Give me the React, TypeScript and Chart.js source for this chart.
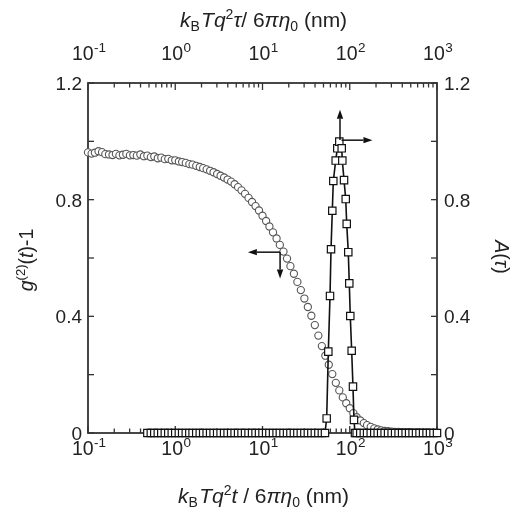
import React, { useEffect, useRef } from "react";
import { Chart, registerables } from "chart.js";

Chart.register(...registerables);

// ---- data ----
const tau = [
  0.1, 0.11, 0.12, 0.132, 0.145, 0.158, 0.174, 0.191, 0.209, 0.229,
  0.251, 0.275, 0.302, 0.331, 0.363, 0.398, 0.437, 0.479, 0.525, 0.575,
  0.631, 0.692, 0.759, 0.832, 0.912,
  1.0, 1.1, 1.2, 1.32, 1.45, 1.58, 1.74, 1.91, 2.09, 2.29,
  2.51, 2.75, 3.02, 3.31, 3.63, 3.98, 4.37, 4.79, 5.25, 5.75,
  6.31, 6.92, 7.59, 8.32, 9.12,
  10, 11, 12, 13.2, 14.5, 15.8, 17.4, 19.1, 20.9, 22.9,
  25.1, 27.5, 30.2, 33.1, 36.3, 39.8, 43.7, 47.9, 52.5, 57.5,
  63.1, 69.2, 75.9, 83.2, 91.2,
  100, 110, 120, 132, 145, 158, 174, 191, 209, 229,
  251, 275, 302, 331, 363, 398, 437, 479, 525, 575,
  631, 692, 759, 832, 912,
  1000,
];

const g2 = [
  0.962, 0.958, 0.961, 0.966, 0.963, 0.956, 0.955, 0.953, 0.957, 0.952,
  0.954, 0.957, 0.952, 0.953, 0.951, 0.955, 0.949, 0.951, 0.946, 0.948,
  0.942, 0.944, 0.939, 0.94, 0.935,
  0.935, 0.931, 0.929, 0.926, 0.922, 0.92, 0.916, 0.912, 0.908, 0.904,
  0.899, 0.894, 0.888, 0.882, 0.876, 0.869, 0.862, 0.853, 0.843, 0.832,
  0.82, 0.806, 0.792, 0.778, 0.763,
  0.745, 0.727, 0.708, 0.688, 0.667, 0.645, 0.622, 0.598, 0.572, 0.546,
  0.518, 0.49, 0.461, 0.432, 0.402, 0.37, 0.334, 0.298, 0.265, 0.234,
  0.202, 0.172, 0.146, 0.122, 0.102,
  0.085, 0.068, 0.054, 0.043, 0.034, 0.027, 0.021, 0.016, 0.012, 0.009,
  0.007, 0.006, 0.005, 0.004, 0.004, 0.003, 0.003, 0.003, 0.002, 0.002,
  0.002, 0.002, 0.002, 0.001, 0.001,
  0.001,
];

// A(tau): zero baseline on both sides of the peak
const aTauLow = tau.slice(17, 68); // 0.479 .. 47.9
const aTauHigh = tau.slice(77); // 120 .. 1000
const peakTau = [
  52.0, 54.4, 56.8, 59.4, 61.0, 63.1, 64.8, 69.0, 72.0, 75.9,
  80.9, 82.2, 86.0, 89.9, 92.3, 96.2, 98.8, 101.4, 105.2, 108.9, 111.8, 114.8,
];
const peakA = [
  0, 0.05, 0.279, 0.47, 0.63, 0.762, 0.864, 0.934, 0.976, 0.999,
  0.976, 0.934, 0.867, 0.802, 0.717, 0.62, 0.513, 0.401, 0.282, 0.159, 0.045, 0,
];

const xMajorTicks = [0.1, 1, 10, 100, 1000];
const xTickExponents = ["-1", "0", "1", "2", "3"];
const xMinorTicks = [
  0.2, 0.3, 0.4, 0.5, 0.6, 0.7, 0.8, 0.9,
  2, 3, 4, 5, 6, 7, 8, 9,
  20, 30, 40, 50, 60, 70, 80, 90,
  200, 300, 400, 500, 600, 700, 800, 900,
];
const yTicks = [0, 0.2, 0.4, 0.6, 0.8, 1.0, 1.2];
const yTickLabels = [0, 0.4, 0.8, 1.2];

// arrow annotations in data coordinates: [fromX, fromY, toX, toY]
const arrowsLeft = [
  [15.9, 0.62, 6.8, 0.62],
  [15.9, 0.62, 15.9, 0.53],
];
const arrowsRight = [
  [77.3, 1.005, 77.3, 1.108],
  [80.5, 1.004, 182, 1.004],
];

const FONT = '"Liberation Sans", Arial, Helvetica, sans-serif';
const INK = "#222";

type Seg = { t: string; it?: boolean; sz?: number; dy?: number };

function segFont(s: Seg) {
  return `${s.it ? "italic " : ""}${s.sz ?? 19}px ${FONT}`;
}
function richWidth(ctx: CanvasRenderingContext2D, segs: Seg[]) {
  let w = 0;
  for (const s of segs) {
    ctx.font = segFont(s);
    w += ctx.measureText(s.t).width;
  }
  return w;
}
function drawRich(ctx: CanvasRenderingContext2D, segs: Seg[], x: number, y: number) {
  let cx = x;
  for (const s of segs) {
    ctx.font = segFont(s);
    ctx.fillText(s.t, cx, y + (s.dy ?? 0));
    cx += ctx.measureText(s.t).width;
  }
}
function drawRichCentered(ctx: CanvasRenderingContext2D, segs: Seg[], cx: number, y: number) {
  drawRich(ctx, segs, cx - richWidth(ctx, segs) / 2, y);
}

const topTitle: Seg[] = [
  { t: "k", it: true, sz: 21 },
  { t: "B", sz: 14, dy: 4 },
  { t: " ", sz: 5 },
  { t: "Tq", it: true, sz: 21 },
  { t: "2", sz: 14, dy: -8 },
  { t: "τ", it: true, sz: 21 },
  { t: "/ 6", sz: 21 },
  { t: "π", it: true, sz: 21 },
  { t: "η", it: true, sz: 21 },
  { t: "0", sz: 14, dy: 4 },
  { t: " (nm)", sz: 21 },
];
const bottomTitle: Seg[] = [
  { t: "k", it: true, sz: 21 },
  { t: "B", sz: 14, dy: 4 },
  { t: " ", sz: 5 },
  { t: "Tq", it: true, sz: 21 },
  { t: "2", sz: 14, dy: -8 },
  { t: "t", it: true, sz: 21 },
  { t: " / 6", sz: 21 },
  { t: "π", it: true, sz: 21 },
  { t: "η", it: true, sz: 21 },
  { t: "0", sz: 14, dy: 4 },
  { t: " (nm)", sz: 21 },
];
const leftTitle: Seg[] = [
  { t: "g", it: true, sz: 19.5 },
  { t: "(2)", sz: 13, dy: -8 },
  { t: "(", sz: 19.5 },
  { t: "t", it: true, sz: 19.5 },
  { t: ")-1", sz: 19.5 },
];
const rightTitle: Seg[] = [
  { t: "A", it: true, sz: 19.5 },
  { t: "(", sz: 19.5 },
  { t: "τ", it: true, sz: 19.5 },
  { t: ")", sz: 19.5 },
];

function arrow(ctx: CanvasRenderingContext2D, x0: number, y0: number, x1: number, y1: number) {
  const ang = Math.atan2(y1 - y0, x1 - x0);
  const hl = 9;
  const hw = 3.2;
  const bx = x1 - hl * Math.cos(ang);
  const by = y1 - hl * Math.sin(ang);
  ctx.beginPath();
  ctx.moveTo(x0, y0);
  ctx.lineTo(bx, by);
  ctx.stroke();
  ctx.beginPath();
  ctx.moveTo(x1, y1);
  ctx.lineTo(bx - hw * Math.sin(ang), by + hw * Math.cos(ang));
  ctx.lineTo(bx + hw * Math.sin(ang), by - hw * Math.cos(ang));
  ctx.closePath();
  ctx.fill();
}

const decorPlugin = {
  id: "decor",
  beforeDatasetsDraw(chart: any) {
    const { ctx, chartArea } = chart;
    const { left, right, top, bottom } = chartArea;
    const xs = chart.scales.x;
    const ys = chart.scales.y;
    ctx.save();
    ctx.strokeStyle = "#333";
    ctx.lineWidth = 1.3;
    const seg = (a: number, b: number, c: number, d: number) => {
      ctx.beginPath();
      ctx.moveTo(a, b);
      ctx.lineTo(c, d);
      ctx.stroke();
    };
    for (const v of yTicks) {
      const py = ys.getPixelForValue(v);
      seg(left, py, left + 6, py);
      seg(right, py, right - 6, py);
    }
    for (const v of xMajorTicks) {
      const px = xs.getPixelForValue(v);
      seg(px, bottom, px, bottom - 7);
      seg(px, top, px, top + 7);
    }
    for (const v of xMinorTicks) {
      const px = xs.getPixelForValue(v);
      seg(px, bottom, px, bottom - 4.5);
      seg(px, top, px, top + 4.5);
    }
    ctx.lineWidth = 1.8;
    ctx.strokeRect(left, top, right - left, bottom - top);
    ctx.restore();
  },
  afterDatasetsDraw(chart: any) {
    const { ctx, chartArea } = chart;
    const { left, right, top, bottom } = chartArea;
    const xs = chart.scales.x;
    const ys = chart.scales.y;
    ctx.save();
    ctx.fillStyle = INK;
    ctx.textBaseline = "alphabetic";
    // y tick labels
    ctx.font = `19px ${FONT}`;
    for (const v of yTickLabels) {
      const py = ys.getPixelForValue(v);
      const txt = v === 0 ? "0" : v.toFixed(1);
      ctx.textAlign = "right";
      ctx.fillText(txt, left - 6, py + 7);
      ctx.textAlign = "left";
      ctx.fillText(txt, right + 7, py + 7);
    }
    ctx.textAlign = "left";
    // x tick labels
    xMajorTicks.forEach((v, i) => {
      const px = xs.getPixelForValue(v);
      const segs: Seg[] = [
        { t: "10", sz: 19.5 },
        { t: " ", sz: 2 },
        { t: xTickExponents[i], sz: 13.5, dy: -8.5 },
      ];
      drawRichCentered(ctx, segs, px + 1, bottom + 22);
      drawRichCentered(ctx, segs, px + 1, top - 23);
    });
    // axis titles
    const cx = (left + right) / 2;
    drawRichCentered(ctx, topTitle, cx + 1, 27);
    drawRichCentered(ctx, bottomTitle, cx + 1, 503);
    ctx.save();
    ctx.translate(33, (top + bottom) / 2 + 2);
    ctx.rotate(-Math.PI / 2);
    drawRichCentered(ctx, leftTitle, 0, 0);
    ctx.restore();
    ctx.save();
    ctx.translate(495, (top + bottom) / 2 - 1);
    ctx.rotate(Math.PI / 2);
    drawRichCentered(ctx, rightTitle, 0, 0);
    ctx.restore();
    // arrows
    ctx.strokeStyle = "#111";
    ctx.fillStyle = "#111";
    ctx.lineWidth = 1.5;
    for (const a of [...arrowsLeft, ...arrowsRight]) {
      arrow(
        ctx,
        xs.getPixelForValue(a[0]),
        ys.getPixelForValue(a[1]),
        xs.getPixelForValue(a[2]),
        ys.getPixelForValue(a[3])
      );
    }
    ctx.restore();
  },
};

export default function App() {
  const ref = useRef<HTMLCanvasElement | null>(null);
  useEffect(() => {
    if (!ref.current) return;
    const aTau = [...aTauLow, ...peakTau, ...aTauHigh];
    const aVal = [...aTauLow.map(() => 0), ...peakA, ...aTauHigh.map(() => 0)];
    const chart = new Chart(ref.current, {
      type: "line",
      data: {
        datasets: [
          {
            label: "A(τ)",
            data: aTau.map((t, i) => ({ x: t, y: aVal[i] })),
            yAxisID: "yA",
            borderColor: "#111",
            borderWidth: 1.6,
            pointStyle: "rect",
            pointRadius: 5.2,
            pointBorderWidth: 1.2,
            pointBorderColor: "#111",
            pointBackgroundColor: "#fff",
            showLine: true,
            clip: false,
            tension: 0,
          },
          {
            label: "g2(t)-1",
            data: tau.map((t, i) => ({ x: t, y: g2[i] })),
            yAxisID: "y",
            showLine: false,
            pointStyle: "circle",
            pointRadius: 3.6,
            pointBorderWidth: 1.1,
            pointBorderColor: "#555",
            pointBackgroundColor: "#fff",
            clip: false,
          },
        ],
      },
      options: {
        animation: false,
        responsive: false,
        events: [],
        layout: { padding: { left: 88, top: 83, right: 76, bottom: 82 } },
        plugins: { legend: { display: false }, tooltip: { enabled: false } },
        scales: {
          x: { type: "logarithmic", min: 0.1, max: 1000, display: false },
          y: { type: "linear", min: 0, max: 1.2, display: false },
          yA: { type: "linear", min: 0, max: 1.2, display: false, position: "right" },
        },
      },
      plugins: [decorPlugin],
    });
    return () => chart.destroy();
  }, []);
  return (
    <div style={{ position: "fixed", left: 0, top: 0, width: 513, height: 515, background: "#fff" }}>
      <canvas ref={ref} width={513} height={515} style={{ display: "block" }} />
    </div>
  );
}
